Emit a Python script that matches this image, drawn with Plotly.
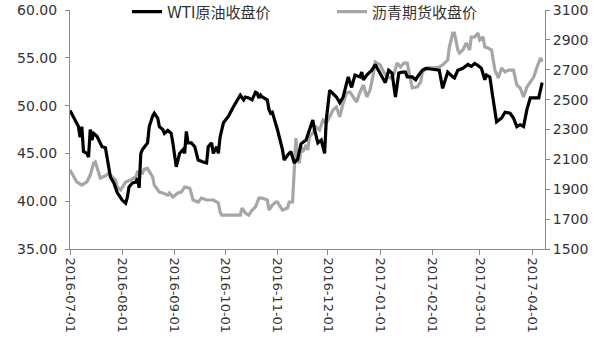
import plotly.graph_objects as go

wti_dates = ["2016-07-01","2016-07-04","2016-07-06","2016-07-07","2016-07-08","2016-07-09","2016-07-11","2016-07-12","2016-07-13","2016-07-14","2016-07-15","2016-07-17","2016-07-19","2016-07-20","2016-07-22","2016-07-23","2016-07-25","2016-07-27","2016-07-29","2016-08-01","2016-08-03","2016-08-04","2016-08-05","2016-08-07","2016-08-09","2016-08-10","2016-08-11","2016-08-12","2016-08-13","2016-08-16","2016-08-17","2016-08-19","2016-08-20","2016-08-22","2016-08-23","2016-08-25","2016-08-26","2016-08-28","2016-08-30","2016-08-31","2016-09-02","2016-09-04","2016-09-06","2016-09-07","2016-09-08","2016-09-09","2016-09-11","2016-09-13","2016-09-15","2016-09-18","2016-09-20","2016-09-21","2016-09-23","2016-09-24","2016-09-26","2016-09-27","2016-09-28","2016-09-30","2016-10-03","2016-10-06","2016-10-09","2016-10-10","2016-10-12","2016-10-13","2016-10-15","2016-10-17","2016-10-19","2016-10-20","2016-10-21","2016-10-22","2016-10-23","2016-10-26","2016-10-27","2016-10-28","2016-10-29","2016-11-01","2016-11-04","2016-11-05","2016-11-07","2016-11-09","2016-11-11","2016-11-13","2016-11-15","2016-11-18","2016-11-22","2016-11-23","2016-11-25","2016-11-27","2016-11-29","2016-11-30","2016-12-02","2016-12-06","2016-12-08","2016-12-10","2016-12-13","2016-12-15","2016-12-17","2016-12-20","2016-12-21","2016-12-22","2016-12-24","2016-12-27","2016-12-29","2016-12-31","2017-01-02","2017-01-04","2017-01-06","2017-01-08","2017-01-10","2017-01-12","2017-01-14","2017-01-16","2017-01-17","2017-01-20","2017-01-22","2017-01-23","2017-01-26","2017-01-28","2017-02-01","2017-02-05","2017-02-07","2017-02-10","2017-02-13","2017-02-14","2017-02-16","2017-02-19","2017-02-22","2017-02-24","2017-02-26","2017-02-28","2017-03-02","2017-03-04","2017-03-05","2017-03-07","2017-03-09","2017-03-10","2017-03-11","2017-03-14","2017-03-16","2017-03-19","2017-03-21","2017-03-23","2017-03-25","2017-03-27","2017-03-29","2017-03-31","2017-04-05","2017-04-07"]
wti_values = [49.5,48.5,47.8,46.7,47.8,45.2,45.0,44.6,47.5,46.4,47.1,46.8,46.1,45.7,45.6,44.6,42.5,41.9,40.9,40.1,39.8,40.4,41.5,41.9,42.0,42.4,41.4,45.0,45.4,46.1,47.8,48.9,49.2,48.7,47.8,47.5,47.1,47.4,47.1,46.1,43.6,45.0,45.4,45.0,47.3,46.1,46.1,45.7,44.3,44.1,44.0,45.7,46.1,45.0,45.7,45.0,46.7,48.2,48.9,49.9,50.9,51.1,50.6,50.9,50.8,50.6,51.4,51.3,50.8,51.1,50.9,50.6,49.6,49.2,49.3,47.5,45.4,44.3,44.8,45.2,44.0,44.4,46.0,46.4,48.5,47.5,46.1,46.4,45.0,48.5,51.6,50.9,50.3,50.9,53.0,51.9,53.2,53.0,53.5,52.7,53.2,53.7,54.3,53.7,53.0,52.4,53.7,53.4,50.9,53.4,53.5,53.5,53.0,53.0,52.7,53.0,53.7,53.9,53.8,53.7,51.8,53.5,53.0,52.9,53.7,53.9,54.3,54.1,54.4,54.2,53.9,52.7,53.2,53.0,50.6,49.2,48.3,48.7,49.3,49.2,48.7,47.8,48.0,47.8,49.6,50.8,50.8,52.4]

asp_dates = ["2016-07-01","2016-07-05","2016-07-08","2016-07-11","2016-07-13","2016-07-15","2016-07-16","2016-07-18","2016-07-19","2016-07-22","2016-07-24","2016-07-25","2016-07-28","2016-07-29","2016-07-31","2016-08-03","2016-08-06","2016-08-09","2016-08-10","2016-08-13","2016-08-14","2016-08-16","2016-08-17","2016-08-19","2016-08-20","2016-08-23","2016-08-25","2016-08-28","2016-08-29","2016-08-31","2016-09-03","2016-09-05","2016-09-07","2016-09-10","2016-09-12","2016-09-15","2016-09-17","2016-09-20","2016-09-24","2016-09-26","2016-09-27","2016-09-28","2016-09-29","2016-10-10","2016-10-11","2016-10-13","2016-10-15","2016-10-17","2016-10-19","2016-10-21","2016-10-23","2016-10-26","2016-10-27","2016-10-29","2016-10-31","2016-11-01","2016-11-04","2016-11-07","2016-11-08","2016-11-10","2016-11-11","2016-11-12","2016-11-13","2016-11-14","2016-11-15","2016-11-16","2016-11-18","2016-11-19","2016-11-20","2016-11-22","2016-11-24","2016-11-26","2016-11-28","2016-11-30","2016-12-02","2016-12-04","2016-12-06","2016-12-08","2016-12-10","2016-12-12","2016-12-14","2016-12-16","2016-12-18","2016-12-20","2016-12-22","2016-12-24","2016-12-26","2016-12-28","2016-12-29","2017-01-01","2017-01-03","2017-01-05","2017-01-07","2017-01-09","2017-01-11","2017-01-13","2017-01-15","2017-01-17","2017-01-18","2017-01-19","2017-01-20","2017-01-23","2017-01-25","2017-01-26","2017-01-29","2017-02-01","2017-02-05","2017-02-07","2017-02-10","2017-02-11","2017-02-13","2017-02-14","2017-02-16","2017-02-17","2017-02-19","2017-02-21","2017-02-23","2017-02-24","2017-02-26","2017-02-28","2017-03-01","2017-03-03","2017-03-04","2017-03-06","2017-03-08","2017-03-10","2017-03-12","2017-03-14","2017-03-16","2017-03-18","2017-03-21","2017-03-23","2017-03-25","2017-03-27","2017-03-29","2017-03-31","2017-04-02","2017-04-04","2017-04-06","2017-04-07"]
asp_values = [2029,1949,1928,1949,1995,2076,2083,2020,1975,1990,2008,1995,1962,1915,1895,1949,1962,1982,2015,2008,2035,2040,2020,1982,1928,1881,1875,1861,1875,1848,1875,1881,1915,1908,1828,1814,1841,1828,1828,1814,1808,1748,1727,1727,1774,1741,1727,1761,1781,1841,1841,1828,1761,1794,1814,1814,1761,1774,1814,1815,2076,2243,2100,2076,2183,2149,2196,2163,2250,2277,2317,2297,2364,2344,2384,2431,2451,2384,2477,2545,2551,2518,2484,2551,2598,2518,2565,2678,2752,2732,2685,2651,2645,2665,2745,2718,2745,2745,2698,2631,2578,2585,2618,2685,2712,2712,2718,2732,2765,2852,2946,2946,2832,2812,2832,2879,2832,2919,2919,2946,2899,2919,2852,2845,2832,2698,2645,2712,2685,2698,2698,2598,2578,2518,2585,2618,2651,2718,2779,2752]

wti_name = "WTI原油收盘价"
asp_name = "沥青期货收盘价"

x_range = ["2016-07-01", "2017-04-08 17:00"]
left_range = [35, 60]
right_range = [1500, 3100]

axis_col = "#888888"
text_col = "#333333"
font_fam = "DejaVu Sans, Noto Sans CJK SC, sans-serif"

fig = go.Figure()
fig.add_trace(go.Scatter(x=wti_dates, y=wti_values, name=wti_name, mode="lines",
                         line=dict(color="#000000", width=3.2), yaxis="y2"))
fig.add_trace(go.Scatter(x=asp_dates, y=asp_values, name=asp_name, mode="lines",
                         line=dict(color="#a6a6a6", width=3.2), yaxis="y"))

fig.update_layout(
    width=600, height=351,
    margin=dict(l=70, r=55, t=10, b=102, autoexpand=False),
    paper_bgcolor="white", plot_bgcolor="white",
    font=dict(family=font_fam, size=14, color=text_col),
    showlegend=True,
    legend=dict(orientation="h", x=0.12, xanchor="left", y=0.992, yanchor="middle",
                bgcolor="rgba(0,0,0,0)", font=dict(size=15, color=text_col),
                entrywidth=160, entrywidthmode="pixels", itemwidth=30,
                traceorder="normal"),
    xaxis=dict(type="date", range=x_range, tick0="2016-07-01", dtick="M1",
               tickformat="%Y-%m-%d", tickangle=90, showgrid=False, zeroline=False,
               showline=True, linecolor=axis_col, linewidth=1,
               ticks="outside", ticklen=5, tickcolor=axis_col,
               tickfont=dict(size=13, color=text_col)),
    yaxis=dict(side="right", range=right_range, dtick=200, tick0=1500,
               showgrid=False, zeroline=False, showline=True, linecolor=axis_col,
               linewidth=1, ticks="outside", ticklen=4, tickcolor=axis_col,
               tickfont=dict(size=14, color=text_col)),
    yaxis2=dict(side="left", overlaying="y", range=left_range, dtick=5, tick0=35,
                tickformat=".2f", showgrid=False, zeroline=False, showline=True,
                linecolor=axis_col, linewidth=1, ticks="outside", ticklen=4,
                ticklabelstandoff=5,
                tickcolor=axis_col, tickfont=dict(size=14, color=text_col)),
)

fig.write_html("out.html")
